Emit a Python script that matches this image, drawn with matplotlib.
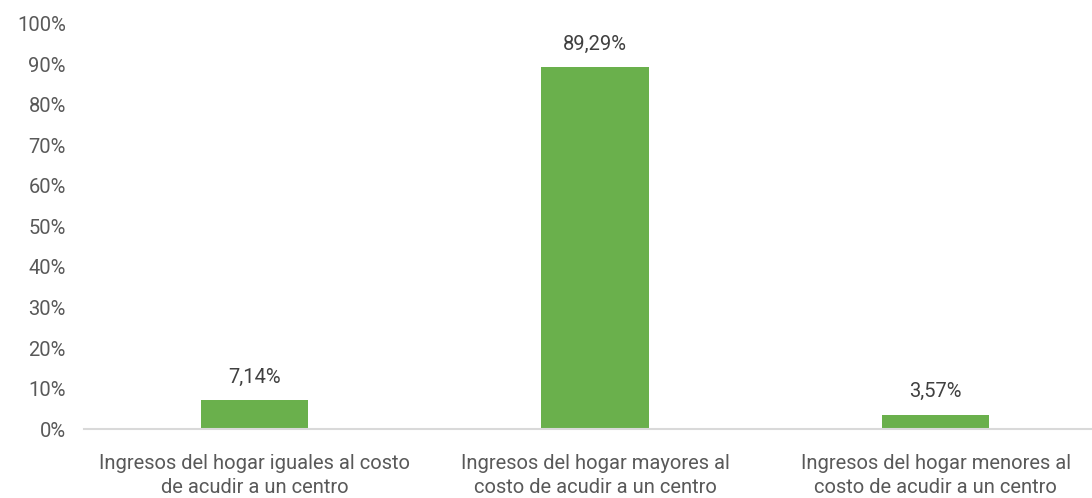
import matplotlib
matplotlib.use("Agg")
import matplotlib.pyplot as plt
from matplotlib import font_manager

names = {f.name for f in font_manager.fontManager.ttflist}
fam = "Liberation Sans Narrow" if "Liberation Sans Narrow" in names else "Roboto"
plt.rcParams['font.family'] = [fam, 'DejaVu Sans']

categories = ["Ingresos del hogar iguales al costo\nde acudir a un centro",
              "Ingresos del hogar mayores al\ncosto de acudir a un centro",
              "Ingresos del hogar menores al\ncosto de acudir a un centro"]
values = [7.14, 89.29, 3.57]
value_labels = ["7,14%", "89,29%", "3,57%"]
yticks = [0, 10, 20, 30, 40, 50, 60, 70, 80, 90, 100]

W, H = 1092, 498
fig = plt.figure(figsize=(W/100, H/100), dpi=100)
ax = fig.add_axes([84/W, 69/H, 1022/W, 405/H])
x = range(len(categories))
ax.bar(x, values, width=0.315, color="#6AB04C", zorder=2)
for xi, v, lab in zip(x, values, value_labels):
    ax.text(xi, v + 3.3, lab, ha="center", va="bottom", fontsize=14.5, color="#404040")
ax.set_xlim(-0.5, 2.5)
ax.set_ylim(0, 100)
ax.set_yticks(yticks)
ax.set_yticklabels([f"{t}%" for t in yticks], fontsize=14.5, color="#595959")
ax.set_xticks(list(x))
ax.set_xticklabels(categories, fontsize=14.5, color="#595959", linespacing=1.35)
ax.tick_params(axis="both", length=0)
ax.tick_params(axis="y", pad=13)
ax.tick_params(axis="x", pad=18)
for s in ["top", "right", "left"]:
    ax.spines[s].set_visible(False)
ax.spines["bottom"].set_color("#D9D9D9")
ax.spines["bottom"].set_linewidth(1.5)
fig.savefig("out.png", dpi=100)
